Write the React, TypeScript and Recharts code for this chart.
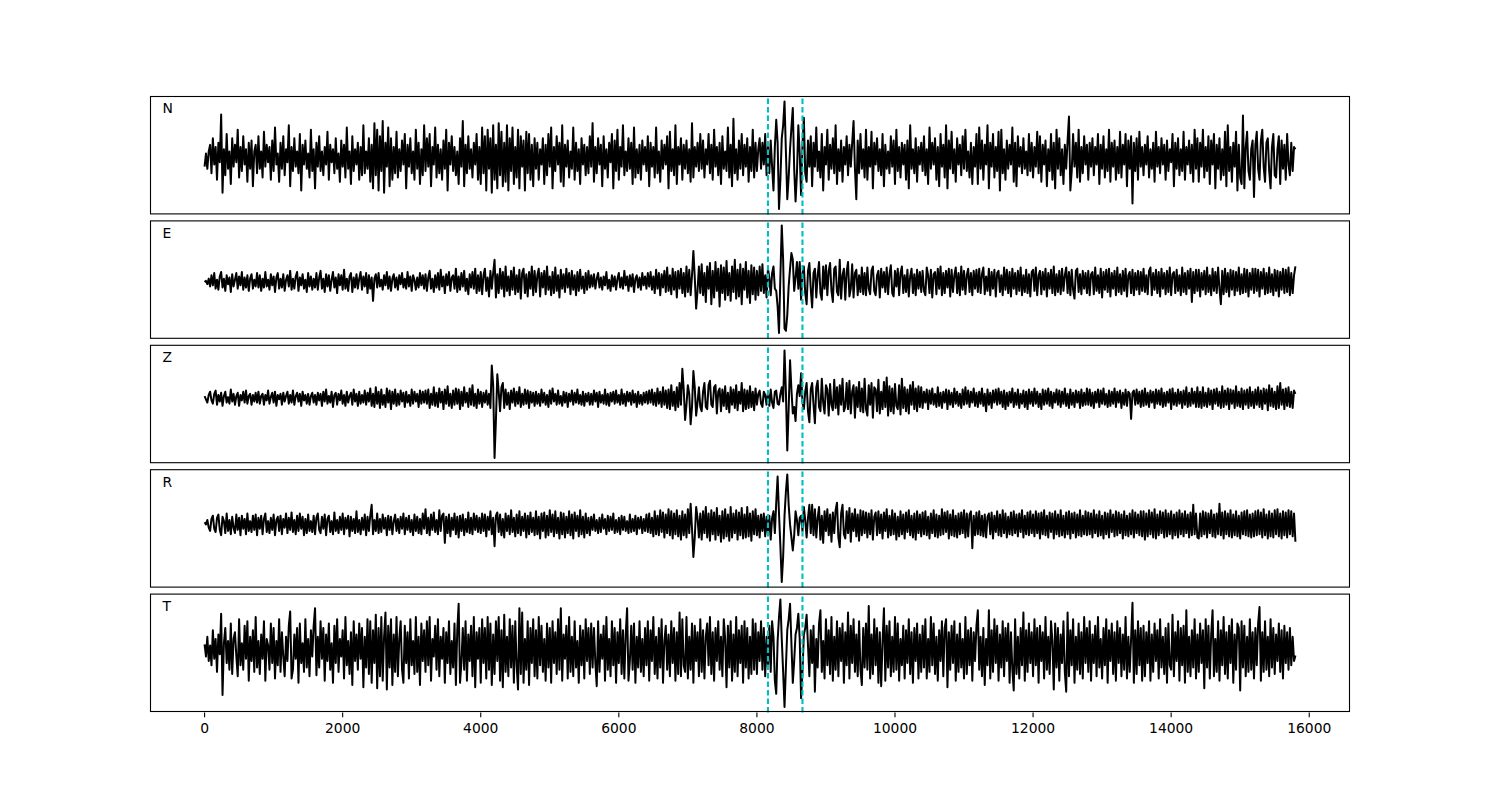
import React from 'react';
import { LineChart, Line, XAxis, YAxis, ReferenceLine } from 'recharts';

// ---- data: amplitudes; each row covers ROW_SPAN samples-axis units,
// values spaced SAMPLE_STEP apart ----
const SAMPLE_STEP = 20;
const ROW_SPAN = 800;
const CHANNELS = ['N', 'E', 'Z', 'R', 'T'];
const X_TICKS = [0, 2000, 4000, 6000, 8000, 10000, 12000, 14000, 16000];
const X_DOMAIN: [number, number] = [-790, 16590];
const PICKS = [8160, 8660];

const N_ROWS = [
  [-8, 4, -10, 6, 12, -14, 18, -6, 10, -20, 14, -4, 40, -32, 8, -16, 22, -10, 6, -24, 18, -8, 12, -4, 26, -18, 10, -12, 20, -6, 8, -22, 14, -10, 16, -26, 6, 12, -14, 20],
  [-10, 6, -18, 24, -8, 12, -4, 10, -20, 16, -12, 28, -6, 4, -22, 14, -10, 20, -16, 8, -4, 30, -26, 10, -12, 18, -8, 6, -14, 22, -30, 12, -6, 16, -10, 4, -18, 26, -12, 8],
  [-28, 14, -8, 20, -12, 6, -16, 10, -6, 24, -20, 12, -4, 8, -14, 18, -10, 4, -22, 16, -8, 12, -18, 28, -10, 6, -24, 20, -12, 8, -6, 14, -20, 10, -16, 30, -14, 6, -10, 18],
  [-22, 12, -28, 32, -16, 26, -30, 20, -12, 34, -32, 14, -8, 28, -26, 18, -20, 10, -14, 24, -18, 8, -12, 16, -6, 22, -28, 12, -8, 18, -14, 6, -20, 26, -10, 14, -24, 8, -16, 30],
  [-12, 18, -8, 22, -26, 10, -6, 28, -18, 12, -14, 8, -20, 16, -10, 26, -30, 14, -6, 20, -12, 10, -16, 6, -24, 18, -8, 34, -26, 12, -14, 20, -10, 8, -18, 14, -6, 22, -20, 10],
  [-24, 28, -14, 20, -30, 26, -10, 18, -32, 30, -20, 12, -28, 32, -16, 24, -26, 14, -22, 30, -30, 18, -12, 28, -24, 10, -18, 26, -28, 20, -8, 16, -30, 24, -14, 22, -20, 12, -26, 18],
  [-10, 14, -20, 8, -6, 18, -24, 12, -16, 22, -8, 28, -28, 10, -12, 20, -6, 14, -22, 30, -26, 12, -8, 16, -18, 6, -10, 28, -20, 14, -12, 8, -24, 18, -6, 12, -16, 10, -14, 20],
  [-8, 32, -22, 10, -14, 18, -6, 12, -26, 20, -10, 8, -18, 14, -4, 22, -28, 16, -12, 26, -20, 10, -8, 30, -16, 6, -12, 18, -10, 14, -24, 28, -18, 8, -14, 12, -20, 16, -6, 10],
  [-12, 20, -26, 14, -8, 10, -18, 28, -14, 6, -22, 16, -10, 12, -6, 20, -28, 24, -12, 8, -16, 30, -24, 10, -6, 18, -20, 12, -10, 16, -14, 8, -22, 32, -18, 10, -8, 14, -12, 22],
  [-10, 16, -18, 8, -6, 22, -14, 12, -20, 26, -8, 10, -16, 14, -24, 20, -10, 6, -12, 28, -18, 12, -26, 36, -14, 8, -20, 16, -10, 22, -16, 12, -8, 18, -22, 10, -12, 26, -18, 14],
  [-12, 8, 18, -10, 14, -6, 22, -16, 10, -14, 16, -8, -30, 10, 35, 14, -47, -20, 18, 30, 52, 6, -38, -18, 8, 28, 46, -10, -40, -14, 30, 4, -34, 12, 37, -14, -22, 16, -8, 20],
  [-26, 14, -8, 28, -12, 6, -18, 22, -30, 10, -6, 26, -20, 12, -10, 18, -14, 30, -24, 8, -12, 16, -22, 10, -6, 20, -16, 12, -8, 14, 34, -10, -38, 16, -14, 22, -10, 8, -18, 26],
  [-20, 10, -8, 24, -28, 14, -6, 18, -12, 8, -16, 22, -26, 12, -10, 6, -14, 20, -8, 16, -24, 26, -12, 10, -18, 14, -6, 12, -20, 16, -28, 30, -10, 8, -14, 18, -22, 10, -6, 14],
  [-12, 20, -16, 8, -24, 28, -10, 14, -6, 18, -20, 10, -26, 22, -8, 12, -18, 30, -28, 16, -10, 24, -14, 8, -22, 18, -6, 12, -16, 20, -10, 26, -12, 6, -18, 14, -24, 10, -8, 22],
  [-24, 28, -10, 16, -20, 12, -6, 30, -28, 14, -8, 22, -18, 10, -12, 24, -30, 26, -14, 8, -20, 16, -10, 12, -6, 28, -22, 14, -26, 20, -8, 10, -14, 18, -10, 6, -16, 22, -12, 14],
  [-18, 10, -8, 24, -14, 20, -22, 12, -6, 16, -26, 8, -12, 22, -20, 14, -28, 26, -10, 18, -16, 8, -24, 12, -10, 16, 38, -30, -12, 22, -8, 14, -18, 26, -22, 10, -14, 20, -6, 12],
  [-20, 14, -8, 18, -16, 10, -6, 22, -24, 12, -10, 20, -18, 8, -12, 26, -22, 14, -8, 16, -20, 10, -14, 24, -18, 12, -6, 22, -26, 16, -10, 20, -42, 14, -12, 18, -20, 24, -8, 10],
  [-16, 12, -6, 20, -18, 8, -10, 14, -22, 24, -8, 10, -14, 18, -6, 12, -20, 16, -12, 8, -4, 22, -26, 14, -10, 18, -16, 8, -12, 24, -20, 10, -6, 16, -14, 12, -22, 26, -10, 18],
  [-22, 14, -8, 26, -18, 10, -12, 20, -24, 16, -6, 22, -28, 12, -10, 18, -20, 8, -16, 24, -26, 30, -12, 10, -22, 14, -8, 24, -30, 12, -18, -24, 39, -28, 10, 24, -12, -20, 8, 16],
  [-36, 12, 24, -10, -20, 16, 26, -8, -22, 14, 18, -12, -28, 10, 22, -16, -18, 8, 20, -24, 16, -10, 12, -20, 22, -6, -16, 14, -12, 10, 8],
];

const E_ROWS = [
  [0, 1, -2, 3, -4, 6, -3, 8, -6, 2, -7, 5, 9, -5, 3, -8, 6, -2, 4, -9, 7, -4, 2, 8, -6, 5, -3, 9, -7, 4, -5, 6, -8, 3, 7, -6, 2, -4, 8, -5],
  [6, -8, 3, -5, 9, -4, 2, -7, 7, -3, 5, -9, 4, 8, -6, 3, -5, 7, -8, 2, 6, -4, 10, -7, 3, -6, 5, 9, -8, 4, -3, 7, -6, 2, -9, 8, -4, 5, -7, 3],
  [-5, 8, -7, 4, 10, -6, 3, -9, 7, -4, 6, -8, 2, 9, -5, 4, -10, 7, -3, 6, -7, 11, -6, 3, -8, 5, 8, -9, 4, -5, 7, -6, 3, 9, -7, 5, -4, 8, -10, 6],
  [-6, 4, -17, 3, 7, -5, 8, -4, 2, -7, 6, -3, 9, -6, 5, -8, 3, 7, -5, 4, -7, 6, -2, 8, -5, 3, -6, 9, -4, 5, -8, 6, 2, -7, 4, -5, 8, -3, 6, -6],
  [7, -8, 4, 10, -6, 3, -9, 6, -5, 8, -7, 11, -4, 5, -10, 7, -3, 9, -8, 4, 6, -6, 12, -9, 5, -7, 8, -4, 10, -8, 3, -11, 7, -5, 9, -6, 12, -10, 6, -8],
  [9, -11, 6, 12, -8, 4, -13, 10, -6, 8, 20, -14, 7, -10, 12, -6, 9, -13, 14, -8, 5, -12, 10, -7, 13, -11, 6, -9, 11, -15, 8, 12, -10, 7, -13, 9, -6, 14, -12, 10],
  [-9, 6, 12, -13, 8, -5, 10, -11, 14, -7, 5, -12, 9, -10, 13, -8, 6, -14, 11, -6, 7, -9, 12, -5, 8, -11, 10, -7, 6, -12, 9, -8, 11, -6, 5, -10, 8, -7, 10, -5],
  [6, -4, 7, -6, 3, 8, -5, 4, -7, 5, -3, 9, -6, 2, -8, 6, -4, 5, -7, 3, 8, -5, 4, -6, 10, -3, 5, -8, 6, -4, 7, -9, 3, 6, -5, 4, -7, 8, -3, 5],
  [-6, 8, -4, 9, -7, 5, -10, 11, -6, 8, -12, 7, -5, 10, -9, 13, -8, 6, -11, 12, -7, 9, -14, 10, -6, 12, -10, 8, -13, 14, -9, 11, -12, 6, 28, 4, -24, -8, 14, -10],
  [16, -12, 8, -18, 14, -6, 17, -20, 10, -14, 18, -8, 12, -22, 15, -10, 13, -16, 19, -12, 8, -17, 14, -9, 20, -15, 11, -13, 16, -20, 12, -7, 18, -14, 10, -19, 15, -11, 13, -16],
  [10, -12, 14, -8, 16, -10, 6, -14, 12, 4, -12, 8, 14, -6, -8, -22, -46, 5, 51, 20, -42, -44, -30, -4, 12, 26, 20, -8, 4, 18, -6, 18, -16, 8, 14, -10, -20, 10, 17, -6],
  [-23, 8, 12, -14, 6, 18, -10, -16, 14, -6, 15, -12, 10, 17, -8, -18, 12, 14, -9, -12, 20, -15, 6, 12, -16, 9, 18, -13, -6, 16, -14, 8, 11, -12, 6, -9, 13, -11, 8, -12],
  [13, -6, -11, 10, 14, -8, -12, 6, 10, -14, 12, -5, 9, -9, 13, -11, 7, 15, -10, -13, 10, -4, 12, -12, 8, 14, -10, 6, -9, 11, -13, 5, 12, -10, 7, -12, 11, -6, 9, -9],
  [10, -8, -12, 13, 6, -10, 11, -14, 7, 9, -11, 12, -6, 14, -12, 8, -10, 10, -5, 12, -13, 11, -9, 6, 13, -10, 8, -12, 14, -7, 10, -11, 6, 12, -9, 8, -12, 10, -6, 11],
  [-9, 12, -10, 7, 13, -11, 5, -8, 12, -12, 9, -6, 11, -13, 8, 10, -9, 6, -12, 13, -7, 11, -10, 9, -13, 12, -6, 8, -11, 10, -8, 13, -12, 6, -9, 11, -10, 7, -13, 9],
  [11, -8, 13, -12, 6, 10, -11, 9, -7, 12, -13, 8, -6, 11, -10, 14, -12, 7, -9, 10, -11, 12, -8, 6, 13, -10, 9, -12, 11, -7, -15, 10, 12, -9, 7, -11, 10, -6, 8, -10],
  [10, -12, 7, 9, -11, 13, -8, 6, -10, 12, -14, 9, -7, 11, -9, 12, -13, 8, -6, 10, -12, 13, -9, 7, -11, 10, -8, 12, -13, 6, 9, -10, 11, -12, 8, -7, 10, -11, 9, -8],
  [12, -9, 6, -11, 10, 13, -12, 8, -7, 11, -10, 9, -13, 12, -6, 8, -11, 10, -9, 13, -12, 7, 9, -10, 11, -8, 6, -12, 13, -9, 8, -11, 10, -6, 12, -18, 9, -10, 11, -8],
  [11, -13, 8, -7, 10, -11, 13, -9, 6, -12, 12, -8, 9, -10, 13, -6, -20, 10, -11, 12, -9, 8, -13, 11, -7, 10, -12, 9, -8, 13, -11, 7, -10, 12, -9, 11, -13, 8, -7, 12],
  [-10, 12, -8, 11, -13, 9, -6, 12, -11, 8, -10, 13, -9, 7, -12, 11, -8, 10, -13, 9, -7, 12, -10, 11, -9, 13, -12, 8, -10, 6, 14],
];

const Z_ROWS = [
  [2, -1, -4, 3, 6, -2, -5, 4, 7, -6, 3, -3, 5, -7, 2, 6, -4, 1, -5, 8, -3, 4, -6, 2, 5, -7, 3, -2, 6, -4, 7, -5, 2, 4, -6, 3, -3, 5, -4, 6],
  [-5, 2, 4, -6, 3, -2, 7, -5, 1, 5, -4, 6, -7, 3, -1, 4, -6, 5, -3, 2, 6, -5, 3, -4, 7, -6, 2, 5, -3, 4, -7, 6, -2, 3, -5, 4, -6, 2, 5, -4],
  [3, -6, 5, -2, 4, -7, 6, -3, 8, -5, 2, -4, 6, -8, 3, 5, -6, 4, -2, 7, -5, 3, -7, 6, -4, 2, 5, -6, 8, -3, 4, -7, 6, -5, 3, -4, 7, -6, 5, -3],
  [9, -7, 4, -8, 10, -5, 6, -9, 8, -6, 3, -8, 9, -4, 7, -10, 6, -5, 8, -7, 4, -6, 7, -3, 5, -8, 6, -4, 3, -7, 8, -5, 6, -3, 4, -8, 7, -5, 6, -4],
  [7, -5, 8, -9, 4, -6, 10, -7, 5, -8, 9, -4, 6, -10, 8, -5, 11, -7, 4, -9, 7, -6, 9, -5, 8, -10, 6, -7, 10, -4, 5, -8, 9, -6, 12, -7, 4, -9, 8, -5],
  [6, -8, 5, -4, 7, -6, 4, -9, 30, 12, -55, -20, 22, 6, -12, 10, 14, -9, 8, -6, 5, -10, 7, -4, 9, -7, 6, -5, 10, -8, 4, -6, 8, -5, 7, -9, 6, -4, 5, -7],
  [6, -5, 4, -7, 8, -4, 5, -6, 3, -8, 7, -5, 9, -3, 4, -6, 7, -5, 2, -7, 6, -4, 5, -8, 4, -3, 7, -6, 5, -4, 8, -5, 3, -6, 6, -7, 4, -3, 5, -6],
  [4, -6, 7, -3, 5, -8, 6, -4, 3, -5, 8, -6, 4, -7, 5, -3, 6, -5, 7, -4, 3, -6, 8, -5, 4, -7, 6, -3, 5, -6, 7, -4, 4, -8, 6, -5, 3, -6, 5, -4],
  [6, -5, 7, -4, 8, -6, 5, -7, 9, -5, 6, -8, 10, -6, 7, -9, 8, -10, 12, -7, 6, -11, 10, -8, 14, -6, 27, 8, -20, -6, 12, 4, -24, -8, 25, 10, -16, -4, 10, -8],
  [-12, 6, 14, -8, -10, 12, 16, -6, -8, 10, 12, -14, 6, 9, -12, 8, -7, 11, -10, 5, -13, 10, -6, 8, -9, 12, -11, 6, -5, 14, -12, 8, -10, 7, -9, 11, -8, 6, -11, 9],
  [-6, 4, 7, -5, -8, 6, 3, -6, 5, -7, 8, -4, -9, 6, 7, -5, -6, 4, 10, -3, 44, 6, -48, -10, 35, 8, -14, -8, -21, 4, 12, 2, 23, -4, -10, 6, 14, -12, -22, 8],
  [14, -6, -23, 10, 16, -8, -12, 18, -4, -14, 12, 8, -16, 13, -6, -11, 17, -9, 10, -15, 12, -6, 18, -12, -8, 14, -10, 16, -14, 6, 12, -18, 10, -8, 15, -12, 9, -13, 18, -10],
  [-16, 12, -6, 14, -18, 10, 8, -12, 17, -14, 6, -10, 15, -8, 19, -16, 11, -12, 9, -14, 13, -7, -10, 12, -15, 18, -9, 10, -12, 8, -14, 12, -6, 15, -10, 9, -12, 11, -8, 10],
  [-9, 6, -4, 8, -10, 7, -5, 9, -6, 4, -8, 10, -7, 5, -9, 6, -4, 8, -10, 7, -6, 5, -8, 9, -5, 6, -7, 4, -9, 8, -6, 10, -5, 7, -8, 6, -4, 9, -7, 5],
  [-8, 6, -5, 9, -7, 4, -12, 8, -6, 5, -9, 7, -4, 8, -6, 9, -5, 6, -8, 7, -10, 5, -7, 6, -4, 9, -8, 5, -6, 8, -9, 4, -5, 7, -8, 6, -10, 8, -5, 6],
  [-7, 9, -5, 6, -8, 4, -10, 8, -6, 7, -5, 9, -7, 6, -9, 5, -4, 8, -6, 7, -8, 6, -5, 9, -7, 4, -9, 8, -6, 5, -8, 7, -4, 6, -9, 8, -7, 5, -6, 9],
  [-6, 8, -7, 5, -9, 6, -4, 8, -8, 7, -5, 9, -6, 4, -8, 7, -7, 6, -5, 9, -8, 6, -4, 7, -9, 5, -6, 8, -7, 6, 4, -19, 5, 7, -6, 8, -5, 6, -8, 7],
  [-7, 9, -6, 5, -8, 7, -4, 6, -9, 8, -5, 7, -6, 9, -8, 5, -7, 6, -4, 8, -10, 9, -6, 5, -7, 8, -5, 6, -9, 7, -6, 10, -8, 5, -7, 9, -5, 6, -8, 10],
  [-8, 6, -9, 10, -7, 5, -8, 9, -6, 7, -10, 8, -5, 9, -7, 6, -9, 11, -8, 7, -6, 9, -10, 8, -5, 7, -9, 11, -7, 6, -8, 9, -10, 7, -6, 8, -9, 10, -7, 6],
  [-9, 8, -6, 10, -8, 7, -10, 9, -5, 8, -11, 12, -7, 9, -8, 6, -10, 11, -9, 14, -6, 8, -10, 9, -7, 10, -8, 6, -9, 7, 4],
];

const R_ROWS = [
  [2, 0, 4, -3, -6, 5, 8, -4, -7, 6, 9, -5, -10, 7, 3, -8, 10, -6, 4, -9, 7, -3, -8, 9, -5, 6, -10, 8, -4, 5, -9, 10, -6, 3, -7, 8, -5, 9, -10, 6],
  [-4, 8, -9, 5, 10, -7, 3, -8, 6, -5, 9, -10, 4, 7, -6, 8, -9, 5, -3, 10, -8, 6, -5, 11, -7, 4, -9, 8, -6, 10, -4, 7, -10, 5, -8, 9, -6, 3, -7, 8],
  [-9, 6, 10, -5, -8, 7, -4, 9, -10, 5, 8, -7, 3, -9, 11, -6, 4, -8, 7, -5, 10, -9, 6, -4, 8, -11, 7, -6, 5, -8, 12, -7, 4, -9, 6, -5, 9, -10, 7, -6],
  [8, 18, -9, 4, -6, 10, -8, 5, -7, 9, -4, 6, -10, 8, -5, 7, -9, 3, 9, -6, 5, -8, 7, -4, 10, -9, 6, -5, 8, -7, 4, -10, 9, -6, 7, -8, 5, -9, 10, -4],
  [14, -8, 6, -10, 9, -5, 11, -7, 4, -9, 13, -6, 8, 10, -17, 7, -8, 9, -11, 6, -5, 10, -9, 7, -12, 8, -6, 9, -10, 5, -7, 11, -8, 6, -9, 10, -5, 8, -7, 6],
  [-8, 10, -6, 9, -11, 7, -5, 12, -9, 6, -20, 8, 11, -7, 9, -10, 5, -12, 10, -6, 8, -9, 13, -7, 6, -11, 9, -8, 12, -10, 7, -6, 10, -12, 8, -9, 11, -7, 6, -10],
  [12, -9, 7, -13, 10, -6, 11, -12, 8, -10, 13, -7, 9, -11, 12, -8, 6, -13, 11, -9, 10, -12, 7, -8, 12, -10, 9, -13, 11, -6, 8, -11, 13, -9, 7, -12, 10, -8, 6, -10],
  [7, -5, 9, -6, 4, -8, 6, -7, 9, -4, 5, -9, 8, -6, 7, -5, 10, -8, 4, -7, 6, -9, 8, -5, 7, -6, 3, -8, 9, -7, 5, -6, 8, -9, 6, -4, 7, -8, 5, -6],
  [9, -7, 10, -8, 6, -11, 12, -9, 8, -10, 13, -7, 11, -12, 9, -8, 14, -10, 12, -13, 10, -9, 13, -11, 8, -14, 12, -10, 9, -12, 14, -8, 19, -4, -30, -12, 16, 6, -12, 10],
  [-14, 12, -8, 16, -12, 10, -15, 13, -9, 11, -14, 15, -10, 8, -16, 12, -13, 14, -11, 9, -15, 16, -12, 10, -8, 13, -14, 11, -10, 15, -13, 9, -12, 16, -11, 10, -15, 12, -9, 14],
  [-10, 8, -12, 9, -6, 10, -11, 7, -9, 8, -14, 6, 12, -8, 20, 44, 10, -20, -53, -30, 8, 30, 46, 18, 0, -12, -24, -10, 12, 4, -10, 6, 8, -6, 16, 4, -12, 6, 18, -8],
  [18, -10, 14, -12, 6, 16, -14, 8, -17, 12, -6, 14, -10, 9, -16, 11, -8, 13, 20, -12, -21, 10, 18, -9, -13, 12, -8, 15, -16, 10, -6, 14, -11, 9, -15, 13, -10, 12, -8, 11],
  [-12, 10, -9, 13, -14, 7, 11, -10, 12, -8, 9, -13, 11, -6, 14, -12, 8, -10, 13, -9, 10, -14, 7, -11, 12, -9, 9, -13, 11, -7, 13, -10, 8, -12, 10, -14, 12, -8, 9, -11],
  [11, -9, 12, -10, 7, -13, 10, -8, 13, -11, 9, -12, 8, -10, 14, -9, 11, -7, 12, -13, 9, -10, 13, -11, 8, -12, 10, -9, 11, -8, 13, -12, 10, -11, 9, 12, -22, 8, -10, 11],
  [-9, 12, -10, 8, -11, 9, -12, 7, 10, -9, 11, -13, 8, -7, 12, -10, 9, -11, 13, -8, 10, -12, 7, -9, 11, -10, 12, -8, 9, -11, 10, -7, 13, -12, 8, -9, 11, -10, 12, -8],
  [9, -11, 12, -8, 10, -13, 11, -9, 13, -10, 8, -12, 11, -7, 10, -13, 12, -9, 9, -11, 13, -10, 8, -12, 11, -9, 12, -13, 10, -8, 11, -12, 9, -10, 13, -11, 8, -9, 12, -10],
  [11, -9, 10, -12, 13, -8, 9, -11, 12, -10, 8, -13, 11, -9, 10, -12, 13, -7, 9, -11, 12, -10, 11, -8, 9, -13, 12, -10, 8, -11, 10, -9, 13, -12, 11, -8, 9, -10, 12, -11],
  [12, -14, 10, -11, 13, -9, 11, -12, 14, -13, 9, -10, 12, -8, 11, -12, 13, -11, 10, -9, 12, -13, 9, -10, 11, -12, 13, -9, 10, -11, 12, -8, 9, -12, 11, -10, 18, -9, 10, -12],
  [-13, 10, -11, 12, -9, 11, -12, 10, -8, 13, -11, 9, -12, 10, -9, 19, -10, 11, -13, 12, -9, 10, -11, 13, -12, 9, -10, 12, -11, 8, -13, 11, -9, 12, -10, 13, -11, 9, -12, 10],
  [-11, 12, -10, 13, -9, 11, -12, 14, -10, 9, -13, 12, -11, 10, -12, 13, -9, 14, -11, 10, -13, 12, -10, 11, -12, 13, -9, 12, -11, 10, -16],
];

const T_ROWS = [
  [5, -6, 12, -10, 4, -14, 18, -8, 10, -20, 14, -4, 33, -41, 6, 20, -12, 8, -18, 24, -22, 10, 16, -6, -24, 28, -14, 6, -18, 22, -8, 26, -28, 12, -10, 18, -20, 30, -16, 8],
  [-22, 14, -8, 26, -28, 10, 4, -18, 24, -12, 20, -26, 8, -14, 28, -20, 16, -6, -24, 12, -10, 22, 35, -26, -18, 14, -8, 20, -30, 24, -12, 6, -20, 28, -16, 10, -24, 18, -6, 22],
  [38, -23, 12, -16, 26, -8, 20, -28, 14, -10, 24, -18, 6, -30, 22, -12, 28, -20, 10, -6, 18, -26, 30, -14, 8, -22, 16, -32, 26, -10, 14, -18, 24, -8, 20, -34, 12, -16, 28, -22],
  [26, -30, 18, -12, 32, -35, 20, -24, 30, -28, 12, 34, -36, 22, -16, 28, -32, 14, -20, 30, -24, 10, 26, -18, -30, 22, -12, 16, -26, 28, -14, 8, -22, 30, -20, 12, -32, 24, -10, 18],
  [-20, 26, -14, 30, -28, 10, -6, 22, -18, 28, -24, 12, -8, 20, -30, 16, -12, 26, -22, 8, -16, 24, -32, 18, 42, -30, -12, 20, -18, 26, -28, 14, -10, 22, -24, 30, -34, 16, -8, 20],
  [-30, 28, -12, 20, -26, 30, -18, 24, -32, 14, -22, 26, -10, 30, -28, 18, -34, 32, -20, 12, -24, 28, -16, 22, -30, 26, -14, -36, 38, -22, 34, -30, 10, -18, 26, -32, 20, -12, 28, -24],
  [18, -26, 30, -14, 22, -20, 10, -28, 24, -16, 20, -30, 26, -12, 16, -22, 28, -18, 38, -28, 14, -8, 22, -26, 30, -20, 12, -24, 26, -16, 8, -30, 22, -14, 18, -26, 28, -10, 20, -22],
  [24, -16, 20, -12, -33, 26, -20, 14, -8, 22, -28, 30, -18, 10, -24, 26, -14, 20, -30, 16, -12, 28, -22, 18, -26, 14, 38, -28, -10, 22, -18, 24, -30, 12, -16, 26, -20, 10, -24, 20],
  [-14, 26, -28, 18, -10, 30, -22, 12, -26, 20, -16, 28, -30, 8, 22, -18, 14, -24, 26, -12, 20, -28, 16, -22, 34, -24, 28, -14, -20, 30, -26, 12, -18, 24, -30, 22, -10, 16, -24, 28],
  [-20, 18, -26, 12, 24, -14, 30, -22, 16, -28, 20, -10, 26, -18, 12, -24, 28, 10, -34, 22, -16, 26, -28, 14, -20, 30, -24, 18, -12, 22, -30, 26, -16, 20, -26, 12, -22, 28, -18, 24],
  [-22, 16, -10, 26, -18, 20, -24, 12, -16, 22, -20, 26, 12, -28, -40, 8, 30, 46, 10, -20, -52, -16, 18, 28, 42, 6, -30, -10, 14, 20, 33, 10, -44, -20, 14, 20, 32, 4, -24, 18],
  [-12, 22, -38, 10, -16, 24, 36, -20, 8, -26, 28, -14, 18, -22, 30, -28, 12, -18, 26, -24, 20, -10, 24, -30, 16, -14, 34, -26, 22, -12, 28, -20, 14, -24, 26, -18, -32, 20, -16, 24],
  [-18, 40, -26, 14, -22, 28, -14, 20, -30, 16, -33, 8, 38, -28, 22, -16, 26, -24, 12, -20, 30, -18, 24, -28, 10, -14, 22, -26, 18, -12, 28, -22, 16, -30, 20, -10, 24, -26, 14, -20],
  [22, -16, 28, -26, 10, -20, 30, -14, 24, -22, 12, -28, 18, -10, 26, -24, 20, 28, -34, 16, -18, 22, -12, 26, -28, 14, -20, 24, -16, 10, -26, 30, -22, 18, -14, 20, -28, 16, -10, 22],
  [36, -18, 12, -24, 20, -32, 10, -14, 36, -26, 18, -20, 28, -12, 22, -28, 14, -16, 26, -24, 20, -10, 24, -30, 16, -18, -37, 28, -22, 12, -26, 20, -14, 34, -28, 18, -20, 24, -12, 16],
  [-24, 28, -14, 20, -30, 22, -10, 16, -26, 30, -18, 12, -22, 26, 8, -36, 24, -16, 20, -28, 14, -12, 26, -20, -38, 34, -24, 18, -14, 28, -30, 12, -18, 24, -22, 16, -26, 30, -12, 20],
  [-20, 26, -28, 14, -12, 22, -24, 30, -16, 10, -26, 20, -14, 28, -30, 18, -10, 24, -22, 16, -28, 26, -12, 20, -24, 14, -18, 30, -26, 12, -20, 10, 43, -30, 18, -22, 26, -14, 20, -28],
  [22, -24, 16, -12, 26, -28, 14, -20, 24, -10, 18, -26, 28, -16, 12, -22, 20, -30, 24, -14, -18, 32, -24, 16, -10, 26, -28, 20, -14, 22, -30, 36, -20, 12, -24, 18, -16, 28, -26, 14],
  [-20, 24, -12, 18, -35, 28, -16, 22, -26, 14, 36, -24, 10, -20, 26, -28, 18, -14, 30, -22, 16, -26, 22, -12, 28, -30, 14, -18, 24, 20, -37, 26, -16, 22, -24, 12, -20, 28, -18, 16],
  [-26, 20, -14, 24, 39, -28, 16, -20, 26, -18, 12, -24, 28, -16, 20, -22, 14, -10, 24, -20, 18, -26, 22, -12, 16, -18, 20, -14, 12, -10, -5],
];

const TRACE_ROWS = [N_ROWS, E_ROWS, Z_ROWS, R_ROWS, T_ROWS];

// ---- layout ----
const FIG_W = 1500;
const FIG_H = 800;
const AX_LEFT = 150;
const AX_RIGHT = 1350;
const AX_TOP = 96;
const PANEL_H = 118.4;
const PANEL_GAP = 6;
const AXIS_H = 30;
const FONT = '"DejaVu Sans", Verdana, sans-serif';

function toPoints(rows: number[][]) {
  const pts: { x: number; v: number }[] = [];
  rows.forEach((row, r) => {
    row.forEach((v, j) => {
      pts.push({ x: r * ROW_SPAN + j * SAMPLE_STEP, v });
    });
  });
  return pts;
}

function padDomain(pts: { v: number }[]): [number, number] {
  let lo = Infinity;
  let hi = -Infinity;
  for (const p of pts) {
    if (p.v < lo) lo = p.v;
    if (p.v > hi) hi = p.v;
  }
  const pad = (hi - lo) * 0.05;
  return [lo - pad, hi + pad];
}

function Panel({ idx }: { idx: number }) {
  const data = toPoints(TRACE_ROWS[idx]);
  const yDomain = padDomain(data);
  const top = AX_TOP + idx * (PANEL_H + PANEL_GAP);
  const last = idx === TRACE_ROWS.length - 1;
  return (
    <div style={{ position: 'absolute', left: 0, top, width: FIG_W, height: PANEL_H + AXIS_H }}>
      <LineChart
        width={FIG_W}
        height={PANEL_H + AXIS_H}
        data={data}
        margin={{ top: 0, right: FIG_W - AX_RIGHT, bottom: 0, left: AX_LEFT }}
      >
        <XAxis
          dataKey="x"
          type="number"
          domain={X_DOMAIN}
          ticks={X_TICKS}
          interval={0}
          height={AXIS_H}
          axisLine={false}
          tickLine={{ stroke: '#000', strokeWidth: 1.1 }}
          tickSize={4.9}
          tickMargin={6}
          tick={last ? { fill: '#000', fontSize: 13.9, fontFamily: FONT } : false}
          allowDataOverflow
        />
        <YAxis hide type="number" domain={yDomain} allowDataOverflow />
        <Line
          type="linear"
          dataKey="v"
          stroke="#000"
          strokeWidth={2}
          strokeLinejoin="round"
          dot={false}
          activeDot={false}
          isAnimationActive={false}
        />
        {PICKS.map((p) => (
          <ReferenceLine key={p} x={p} stroke="#00bfbf" strokeWidth={2.1} strokeDasharray="5.5 3" />
        ))}
      </LineChart>
    </div>
  );
}

export default function App() {
  return (
    <div style={{ position: 'absolute', left: 0, top: 0, width: FIG_W, height: FIG_H, background: '#fff' }}>
      {TRACE_ROWS.map((_, i) => (
        <Panel key={i} idx={i} />
      ))}
      <svg width={FIG_W} height={FIG_H} style={{ position: 'absolute', left: 0, top: 0, pointerEvents: 'none' }}>
        {CHANNELS.map((c, i) => {
          const top = AX_TOP + i * (PANEL_H + PANEL_GAP);
          return (
            <g key={c}>
              <rect
                x={AX_LEFT + 0.5}
                y={top + 0.5}
                width={AX_RIGHT - AX_LEFT - 1}
                height={PANEL_H - 1}
                fill="none"
                stroke="#000"
                strokeWidth={1.1}
              />
              <text x={162.5} y={top + 17.3} fontSize={13.9} fontFamily={FONT} fill="#000">
                {c}
              </text>
            </g>
          );
        })}
      </svg>
    </div>
  );
}
